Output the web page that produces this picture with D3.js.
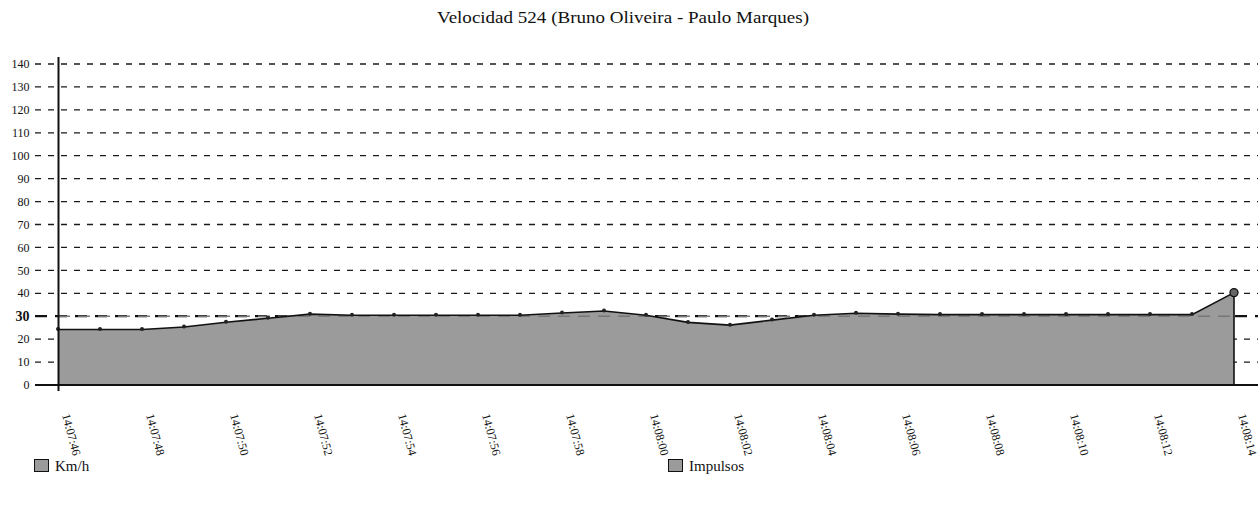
<!DOCTYPE html>
<html>
<head>
<meta charset="utf-8">
<script src="https://cdn.jsdelivr.net/npm/d3@7"></script>
<style>
  html, body { margin: 0; padding: 0; background: #fff; }
  svg { display: block; }
  text { font-family: "Liberation Serif", "Times New Roman", serif; fill: #111; }
</style>
</head>
<body>
<svg id="chart" width="1260" height="509"></svg>
<script>
// ---- data ----
const title = "Velocidad 524 (Bruno Oliveira - Paulo Marques)";
const times = ["14:07:46","14:07:47","14:07:48","14:07:49","14:07:50","14:07:51","14:07:52","14:07:53",
  "14:07:54","14:07:55","14:07:56","14:07:57","14:07:58","14:07:59","14:08:00","14:08:01","14:08:02",
  "14:08:03","14:08:04","14:08:05","14:08:06","14:08:07","14:08:08","14:08:09","14:08:10","14:08:11",
  "14:08:12","14:08:13","14:08:14"];
const kmh = [24.2, 24.2, 24.2, 25.3, 27.4, 29.1, 30.9, 30.4, 30.4, 30.4, 30.4, 30.4, 31.4, 32.3, 30.4,
  27.3, 26.1, 28.3, 30.4, 31.3, 30.9, 30.7, 30.7, 30.7, 30.7, 30.7, 30.7, 30.7, 40.3];
const tickLabels = ["14:07:46","14:07:48","14:07:50","14:07:52","14:07:54","14:07:56","14:07:58",
  "14:08:00","14:08:02","14:08:04","14:08:06","14:08:08","14:08:10","14:08:12","14:08:14"];
const yTicks = [0,10,20,30,40,50,60,70,80,90,100,110,120,130,140];
const limitValue = 30;
const legendLabels = ["Km/h", "Impulsos"];

// ---- layout ----
const svg = d3.select("#chart");
const x = d3.scalePoint().domain(times).range([58, 1234]);
const y = d3.scaleLinear().domain([0, 140]).range([385, 64]);
const gridLeft = 35, gridRight = 1258;
const areaFill = "#9b9b9b";

// title
svg.append("text")
  .attr("x", 623).attr("y", 23)
  .attr("text-anchor", "middle")
  .attr("font-size", 17.5)
  .attr("textLength", 372)
  .attr("lengthAdjust", "spacingAndGlyphs")
  .text(title);

// grid lines (dashed)
const grid = svg.append("g");
grid.selectAll("line.grid")
  .data(yTicks.filter(d => d !== 0 && d !== limitValue))
  .join("line")
  .attr("class", "grid")
  .attr("x1", gridLeft).attr("x2", gridRight)
  .attr("y1", d => y(d)).attr("y2", d => y(d))
  .attr("stroke", "#1a1a1a").attr("stroke-width", 1.3)
  .attr("stroke-dasharray", "6,7");

// limit line (behind area)
svg.append("line")
  .attr("x1", gridLeft).attr("x2", gridRight)
  .attr("y1", y(limitValue)).attr("y2", y(limitValue))
  .attr("stroke", "#111").attr("stroke-width", 2.2)
  .attr("stroke-dasharray", "12,8");

// area
const area = d3.area()
  .x((d, i) => x(times[i]))
  .y0(y(0))
  .y1(d => y(d));
svg.append("path")
  .datum(kmh)
  .attr("d", area)
  .attr("fill", areaFill)
  .attr("stroke", "none");

// faint limit line showing through area
svg.append("line")
  .attr("x1", x(times[0])).attr("x2", x(times[times.length - 1]))
  .attr("y1", y(limitValue)).attr("y2", y(limitValue))
  .attr("stroke", "#777").attr("stroke-width", 1.5)
  .attr("stroke-dasharray", "12,8");

// top outline
const line = d3.line()
  .x((d, i) => x(times[i]))
  .y(d => y(d));
svg.append("path")
  .datum(kmh)
  .attr("d", line)
  .attr("fill", "none")
  .attr("stroke", "#111").attr("stroke-width", 1.6);

// right edge of area
const last = kmh.length - 1;
svg.append("line")
  .attr("x1", x(times[last])).attr("x2", x(times[last]))
  .attr("y1", y(kmh[last])).attr("y2", y(0))
  .attr("stroke", "#111").attr("stroke-width", 1.6);

// baseline
svg.append("line")
  .attr("x1", gridLeft).attr("x2", gridRight)
  .attr("y1", y(0)).attr("y2", y(0))
  .attr("stroke", "#111").attr("stroke-width", 1.8);

// points
svg.append("g").selectAll("circle")
  .data(kmh.slice(0, last))
  .join("circle")
  .attr("cx", (d, i) => x(times[i]))
  .attr("cy", d => y(d) - 0.5)
  .attr("r", 2)
  .attr("fill", "#222");
svg.append("circle")
  .attr("cx", x(times[last])).attr("cy", y(kmh[last]))
  .attr("r", 4)
  .attr("fill", "#666").attr("stroke", "#111").attr("stroke-width", 1.3);

// y axis line
svg.append("line")
  .attr("x1", 58.5).attr("x2", 58.5)
  .attr("y1", 57).attr("y2", 391)
  .attr("stroke", "#111").attr("stroke-width", 2);

// y tick labels
svg.append("g").selectAll("text")
  .data(yTicks)
  .join("text")
  .attr("x", 29.5)
  .attr("y", d => y(d))
  .attr("dy", "0.35em")
  .attr("text-anchor", "end")
  .attr("font-size", d => d === limitValue ? 14 : 12)
  .attr("font-weight", d => d === limitValue ? "bold" : "normal")
  .text(d => d);

// x tick labels (rotated)
svg.append("g").selectAll("text")
  .data(tickLabels)
  .join("text")
  .attr("transform", d => `translate(${x(d) + 4},415) rotate(75)`)
  .attr("font-size", 12)
  .text(d => d);

// legend
const legendX = [34, 668];
const lg = svg.append("g").selectAll("g")
  .data(legendLabels)
  .join("g")
  .attr("transform", (d, i) => `translate(${legendX[i]},459)`);
lg.append("rect")
  .attr("x", 0.5).attr("y", 0.5)
  .attr("width", 14).attr("height", 12)
  .attr("fill", areaFill).attr("stroke", "#111").attr("stroke-width", 1);
lg.append("text")
  .attr("x", 21).attr("y", 11.5)
  .attr("font-size", 15)
  .text(d => d);
</script>
</body>
</html>
